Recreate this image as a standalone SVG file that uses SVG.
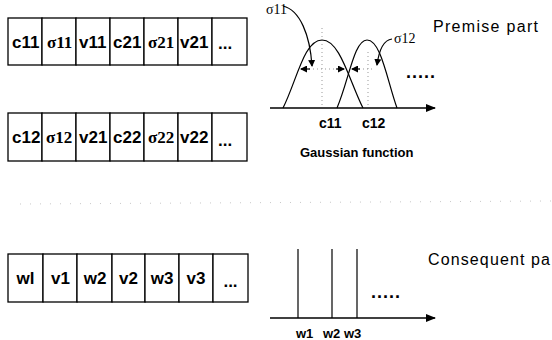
<svg xmlns="http://www.w3.org/2000/svg" width="552" height="340" viewBox="0 0 552 340">
<style>
.cell{fill:#fff;stroke:#000;stroke-width:1.3}
.bt{font-family:"Liberation Sans",Arial,sans-serif;font-weight:bold;font-size:17px;fill:#000}
.bs{font-family:"Liberation Serif","Times New Roman",serif;font-weight:bold;font-size:17px;fill:#000}
.lab{font-family:"Liberation Sans",Arial,sans-serif;font-weight:bold;font-size:14px;fill:#000}
.gf{font-family:"Liberation Sans",Arial,sans-serif;font-weight:bold;font-size:13px;fill:#000}
.dots{font-family:"Liberation Sans",Arial,sans-serif;font-weight:bold;font-size:18px;fill:#000;letter-spacing:1px}
.sig{font-family:"Liberation Serif","Times New Roman",serif;font-size:14px;fill:#000}
.big{font-family:"Liberation Sans",Arial,sans-serif;font-size:16px;fill:#000}
.ax{stroke:#000;stroke-width:1.5;fill:none}
.crv{stroke:#000;stroke-width:1.2;fill:none}
.dot{stroke:#999;stroke-width:1;stroke-dasharray:1 3;fill:none}
</style>
<defs>
<marker id="axh" markerUnits="userSpaceOnUse" markerWidth="10" markerHeight="8" refX="9" refY="4" orient="auto"><path d="M0,0 L10,4 L0,8 z" fill="#000"/></marker>
<marker id="sm" markerUnits="userSpaceOnUse" markerWidth="7" markerHeight="7" refX="6" refY="3.5" orient="auto"><path d="M0,0 L7,3.5 L0,7 z" fill="#000"/></marker>
</defs>

<g id="row1">
<rect class="cell" x="8" y="18" width="34" height="47"/><rect class="cell" x="42" y="18" width="34" height="47"/><rect class="cell" x="76" y="18" width="34" height="47"/><rect class="cell" x="110" y="18" width="34" height="47"/><rect class="cell" x="144" y="18" width="34" height="47"/><rect class="cell" x="178" y="18" width="34" height="47"/><rect class="cell" x="212" y="18" width="35" height="47"/>
<text class="bt" x="12" y="48">c11</text><text class="bs" x="47" y="48">σ11</text><text class="bt" x="79" y="48">v11</text><text class="bt" x="113" y="48">c21</text><text class="bs" x="148" y="48">σ21</text><text class="bt" x="180" y="48">v21</text><text class="bt" x="218" y="49">...</text>
</g>

<g id="row2">
<rect class="cell" x="8" y="113" width="34" height="48"/><rect class="cell" x="42" y="113" width="34" height="48"/><rect class="cell" x="76" y="113" width="34" height="48"/><rect class="cell" x="110" y="113" width="34" height="48"/><rect class="cell" x="144" y="113" width="34" height="48"/><rect class="cell" x="178" y="113" width="34" height="48"/><rect class="cell" x="212" y="113" width="35" height="48"/>
<text class="bt" x="12" y="143">c12</text><text class="bs" x="46" y="143">σ12</text><text class="bt" x="79" y="143">v21</text><text class="bt" x="113" y="143">c22</text><text class="bs" x="148" y="143">σ22</text><text class="bt" x="180" y="143">v22</text><text class="bt" x="218" y="146">...</text>
</g>

<g id="row3">
<rect class="cell" x="8" y="254" width="35" height="48"/><rect class="cell" x="43" y="254" width="34" height="48"/><rect class="cell" x="77" y="254" width="35" height="48"/><rect class="cell" x="112" y="254" width="33" height="48"/><rect class="cell" x="145" y="254" width="34" height="48"/><rect class="cell" x="179" y="254" width="34" height="48"/><rect class="cell" x="213" y="254" width="35" height="48"/>
<g text-anchor="middle"><text class="bt" x="25.5" y="284">wl</text><text class="bt" x="60.5" y="284">v1</text><text class="bt" x="95" y="284">w2</text><text class="bt" x="128.5" y="284">v2</text><text class="bt" x="162" y="284">w3</text><text class="bt" x="196" y="284">v3</text><text class="bt" x="230.5" y="287">...</text></g>
</g>

<g id="premise">
<path class="dot" d="M322,28 V108 M368,52 V108 M305,69 H341 M355,69 H372"/>
<path class="crv" d="M283,108 C297,80 304,40 322,40 C340,40 349,80 363,108"/>
<path class="crv" d="M337,108 C349,80 354,40 367,40 C381,40 387,80 397,108"/>
<line class="ax" x1="270" y1="108" x2="435" y2="108" marker-end="url(#axh)"/>
<text class="sig" x="266" y="14">σ11</text>
<text class="sig" x="394" y="43">σ12</text>
<text class="lab" x="319" y="128">c11</text>
<text class="lab" x="362" y="128">c12</text>
<text class="gf" x="300" y="157">Gaussian function</text>
<text class="dots" x="406" y="78">.....</text>
<text class="big" x="433" y="32" textLength="105">Premise part</text>
</g>

<g id="consequent">
<line class="crv" x1="298" y1="249" x2="298" y2="318"/>
<line class="crv" x1="332" y1="249" x2="332" y2="318"/>
<line class="crv" x1="357" y1="249" x2="357" y2="318"/>
<line class="ax" x1="270" y1="318" x2="435" y2="318" marker-end="url(#axh)"/>
<text class="gf" x="296" y="338">w1</text>
<text class="gf" x="323" y="338">w2</text>
<text class="gf" x="344" y="338">w3</text>
<text class="dots" x="371" y="298">.....</text>
<text class="big" x="428" y="265" textLength="122">Consequent pa</text>
</g>

<g id="separator">
<line x1="20" y1="204" x2="552" y2="201" stroke="#c8c8c8" stroke-width="1" stroke-dasharray="1 9"/>
</g>

<g id="connectors">
<path class="crv" d="M283,6 C300,10 310,35 312,66" marker-end="url(#sm)"/>
<path class="crv" d="M392,39 C384,40 379,50 377,65" marker-end="url(#sm)"/>
<line class="crv" x1="310" y1="69" x2="301" y2="69" marker-end="url(#sm)"/>
<line class="crv" x1="336" y1="69" x2="344" y2="69" marker-end="url(#sm)"/>
<line class="crv" x1="360" y1="69" x2="352" y2="69" marker-end="url(#sm)"/>
</g>
</svg>
